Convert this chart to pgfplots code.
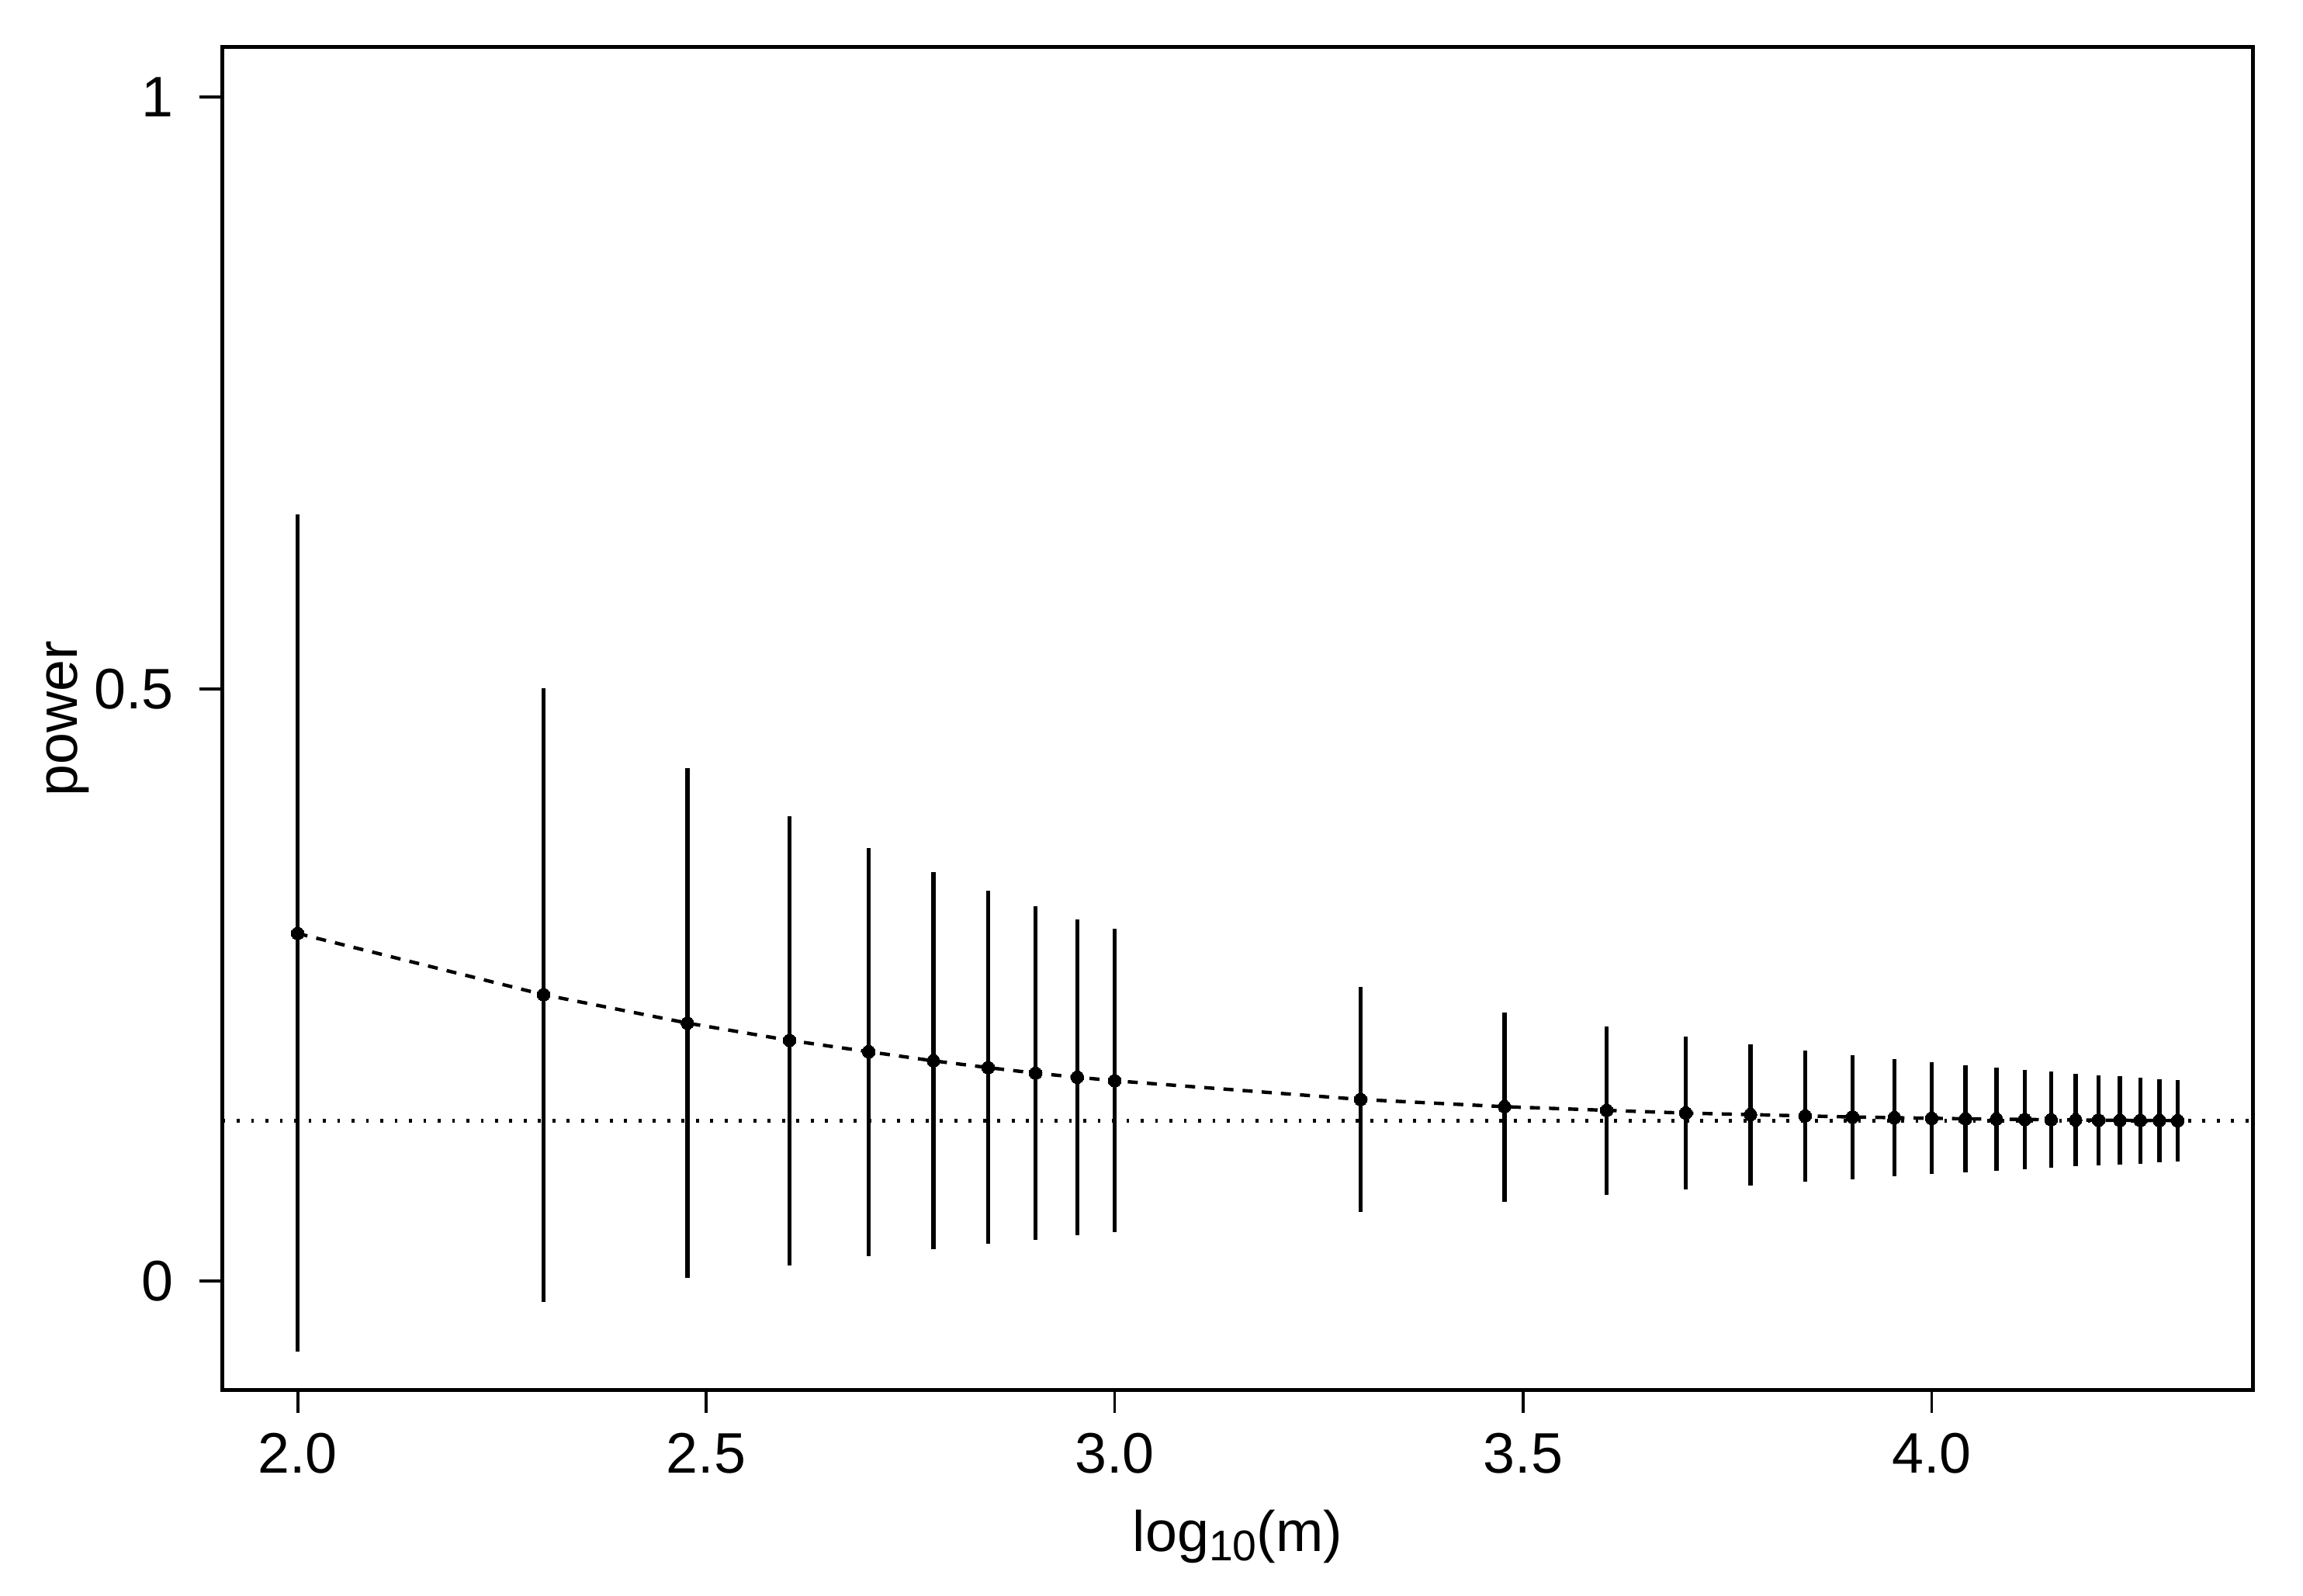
\documentclass[border=0pt]{standalone}
\usepackage{fontspec}
\setmainfont{Liberation Sans}
\usepackage{pgfplots}
\pgfplotsset{compat=1.18}
\usepackage{pgfplotstable}
\pgfplotstableread{
x y lo hi
2.0000 0.2934 -0.0600 0.6470
2.3010 0.2417 -0.0175 0.5003
2.4771 0.2177 0.0026 0.4328
2.6021 0.2031 0.0130 0.3927
2.6990 0.1935 0.0210 0.3655
2.7782 0.1858 0.0269 0.3449
2.8451 0.1801 0.0313 0.3292
2.9031 0.1754 0.0346 0.3164
2.9542 0.1720 0.0383 0.3051
3.0000 0.1690 0.0410 0.2971
3.3010 0.1532 0.0581 0.2484
3.4771 0.1471 0.0667 0.2268
3.6021 0.1440 0.0726 0.2146
3.6990 0.1417 0.0772 0.2061
3.7782 0.1404 0.0805 0.1996
3.8451 0.1393 0.0837 0.1946
3.9031 0.1384 0.0857 0.1905
3.9542 0.1378 0.0885 0.1870
4.0000 0.1373 0.0900 0.1844
4.0414 0.1369 0.0915 0.1820
4.0792 0.1366 0.0930 0.1799
4.1139 0.1363 0.0941 0.1781
4.1461 0.1361 0.0956 0.1766
4.1761 0.1359 0.0967 0.1751
4.2041 0.1357 0.0976 0.1738
4.2304 0.1356 0.0982 0.1727
4.2553 0.1355 0.0991 0.1716
4.2788 0.1354 0.0999 0.1705
4.3010 0.1353 0.1006 0.1697
}\datatable
\begin{document}
\begin{tikzpicture}
\begin{axis}[
  scale only axis, width=444.35bp, height=293.86bp,
  xmin=1.90796, xmax=4.39307, ymin=-0.092, ymax=1.042,
  axis line style={line width=0.8bp, black},
  xtick={2,2.5,3,3.5,4}, xticklabels={2.0,2.5,3.0,3.5,4.0},
  ytick={0,0.5,1}, yticklabels={0,0.5,1},
  minor tick num=0,
  tick align=outside, major tick length=5.1bp,
  xtick pos=bottom, ytick pos=left,
  every tick/.style={black, line width=0.65bp},
  tick label style={font=\fontsize{12.5bp}{15bp}\selectfont, inner sep=0pt},
  xticklabel style={anchor=north, yshift=-4.15bp},
  yticklabel style={anchor=east, xshift=-5.38bp},
  label style={font=\fontsize{12.5bp}{15bp}\selectfont, inner sep=0pt},
  xlabel={log\raisebox{-2.1bp}{\fontsize{9.4bp}{10bp}\selectfont 10}(m)},
  ylabel={power},
  xlabel style={at={(axis description cs:0.5,-0.1204)}, anchor=base},
  ylabel style={at={(axis description cs:-0.0716,0.5)}, anchor=base},
]
\addplot[black, line width=0.8bp, dash pattern=on 0.65bp off 2.49bp, forget plot]
  coordinates {(1.90796,0.135) (4.39307,0.135)};
\addplot[draw=none, mark=none, forget plot,
  error bars/.cd, y dir=both, y explicit, error mark=none,
  error bar style={draw=black, solid, line width=0.9bp}]
  table[x=x, y=y, y error plus expr=\thisrow{hi}-\thisrow{y}, y error minus expr=\thisrow{y}-\thisrow{lo}] {\datatable};
\addplot[black, line width=0.75bp, dash pattern=on 2.2bp off 2.0bp, mark=none]
  table[x=x, y=y] {\datatable};
\addplot[black, only marks, mark=*, mark size=1.4bp, mark options={solid, fill=black, line width=0pt}]
  table[x=x, y=y] {\datatable};
\end{axis}
\pgfresetboundingbox
\path[use as bounding box] ([shift={(-48.68bp,-44.97bp)}]current axis.south west) rectangle ([shift={(10.97bp,10.31bp)}]current axis.north east);
\end{tikzpicture}
\end{document}
